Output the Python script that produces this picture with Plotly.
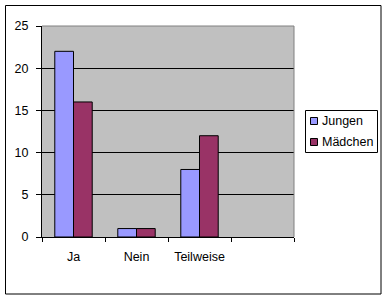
import plotly.graph_objects as go

categories = ["Ja", "Nein", "Teilweise"]
series_names = ["Jungen", "Mädchen"]
jungen = [22, 1, 8]
maedchen = [16, 1, 12]
y_ticks = [0, 5, 10, 15, 20, 25]
colors = ["#9999FF", "#993366"]

W, H = 388, 300
L, R, T, B = 42, 94, 26, 63
pw, ph = W - L - R, H - T - B

def px_x(x):
    return (x - L) / pw

def px_y(y):
    return (H - B - y) / ph

FONT = "Liberation Sans, Arial, sans-serif"
FS = 12.5

xs = list(range(len(categories)))
fig = go.Figure()
for name, vals, col in zip(series_names, [jungen, maedchen], colors):
    fig.add_trace(go.Bar(x=xs, y=vals, name=name, marker=dict(color=col, line=dict(color="black", width=1)),
                         showlegend=False))

shapes = []
# outer chart border
shapes.append(dict(type="rect", xref="paper", yref="paper", x0=px_x(5.5), x1=px_x(381), y0=px_y(294), y1=px_y(5.5),
                   line=dict(color="black", width=1), layer="above"))
# plot area top/right gray border
shapes.append(dict(type="line", xref="paper", yref="paper", x0=0, x1=1, y0=1, y1=1, line=dict(color="#808080", width=1)))
shapes.append(dict(type="line", xref="paper", yref="paper", x0=1, x1=1, y0=0, y1=1, line=dict(color="#808080", width=1)))
# legend box
shapes.append(dict(type="rect", xref="paper", yref="paper", x0=px_x(305.5), x1=px_x(377.5), y0=px_y(152.5), y1=px_y(110.5),
                   line=dict(color="black", width=1), fillcolor="white"))
annotations = []
for i, (name, col) in enumerate(zip(series_names, colors)):
    cy = 121 + i * 21
    shapes.append(dict(type="rect", xref="paper", yref="paper", x0=px_x(310.5), x1=px_x(317.5), y0=px_y(cy + 3.5), y1=px_y(cy - 3.5),
                       line=dict(color="black", width=1), fillcolor=col))
    annotations.append(dict(xref="paper", yref="paper", x=px_x(319.5), y=px_y(cy), text=name, showarrow=False,
                            xanchor="left", yanchor="middle", font=dict(family=FONT, size=FS, color="black")))

fig.update_layout(
    width=W, height=H,
    margin=dict(l=L, r=R, t=T, b=B, pad=0),
    paper_bgcolor="white", plot_bgcolor="#C0C0C0",
    barmode="group", bargap=0.406, bargroupgap=0,
    font=dict(family=FONT, size=FS, color="black"),
    shapes=shapes, annotations=annotations,
    xaxis=dict(range=[-0.5, 3.5], tickvals=xs, ticktext=categories, ticks="outside", ticklen=0,
               showgrid=False, zeroline=False, showline=True, linecolor="black", linewidth=1,
               ticklabelstandoff=8,
               minor=dict(tickvals=[-0.5, 0.5, 1.5, 2.5, 3.5], ticks="outside", ticklen=4, tickcolor="black", showgrid=False),
               fixedrange=True),
    yaxis=dict(range=[0, 25], tickvals=y_ticks, ticks="outside", ticklen=5, tickcolor="black",
               showgrid=True, gridcolor="black", gridwidth=1, zeroline=False,
               showline=True, linecolor="black", linewidth=1, ticklabelstandoff=5, fixedrange=True),
)

fig.write_html("out.html", config={"displayModeBar": False})
